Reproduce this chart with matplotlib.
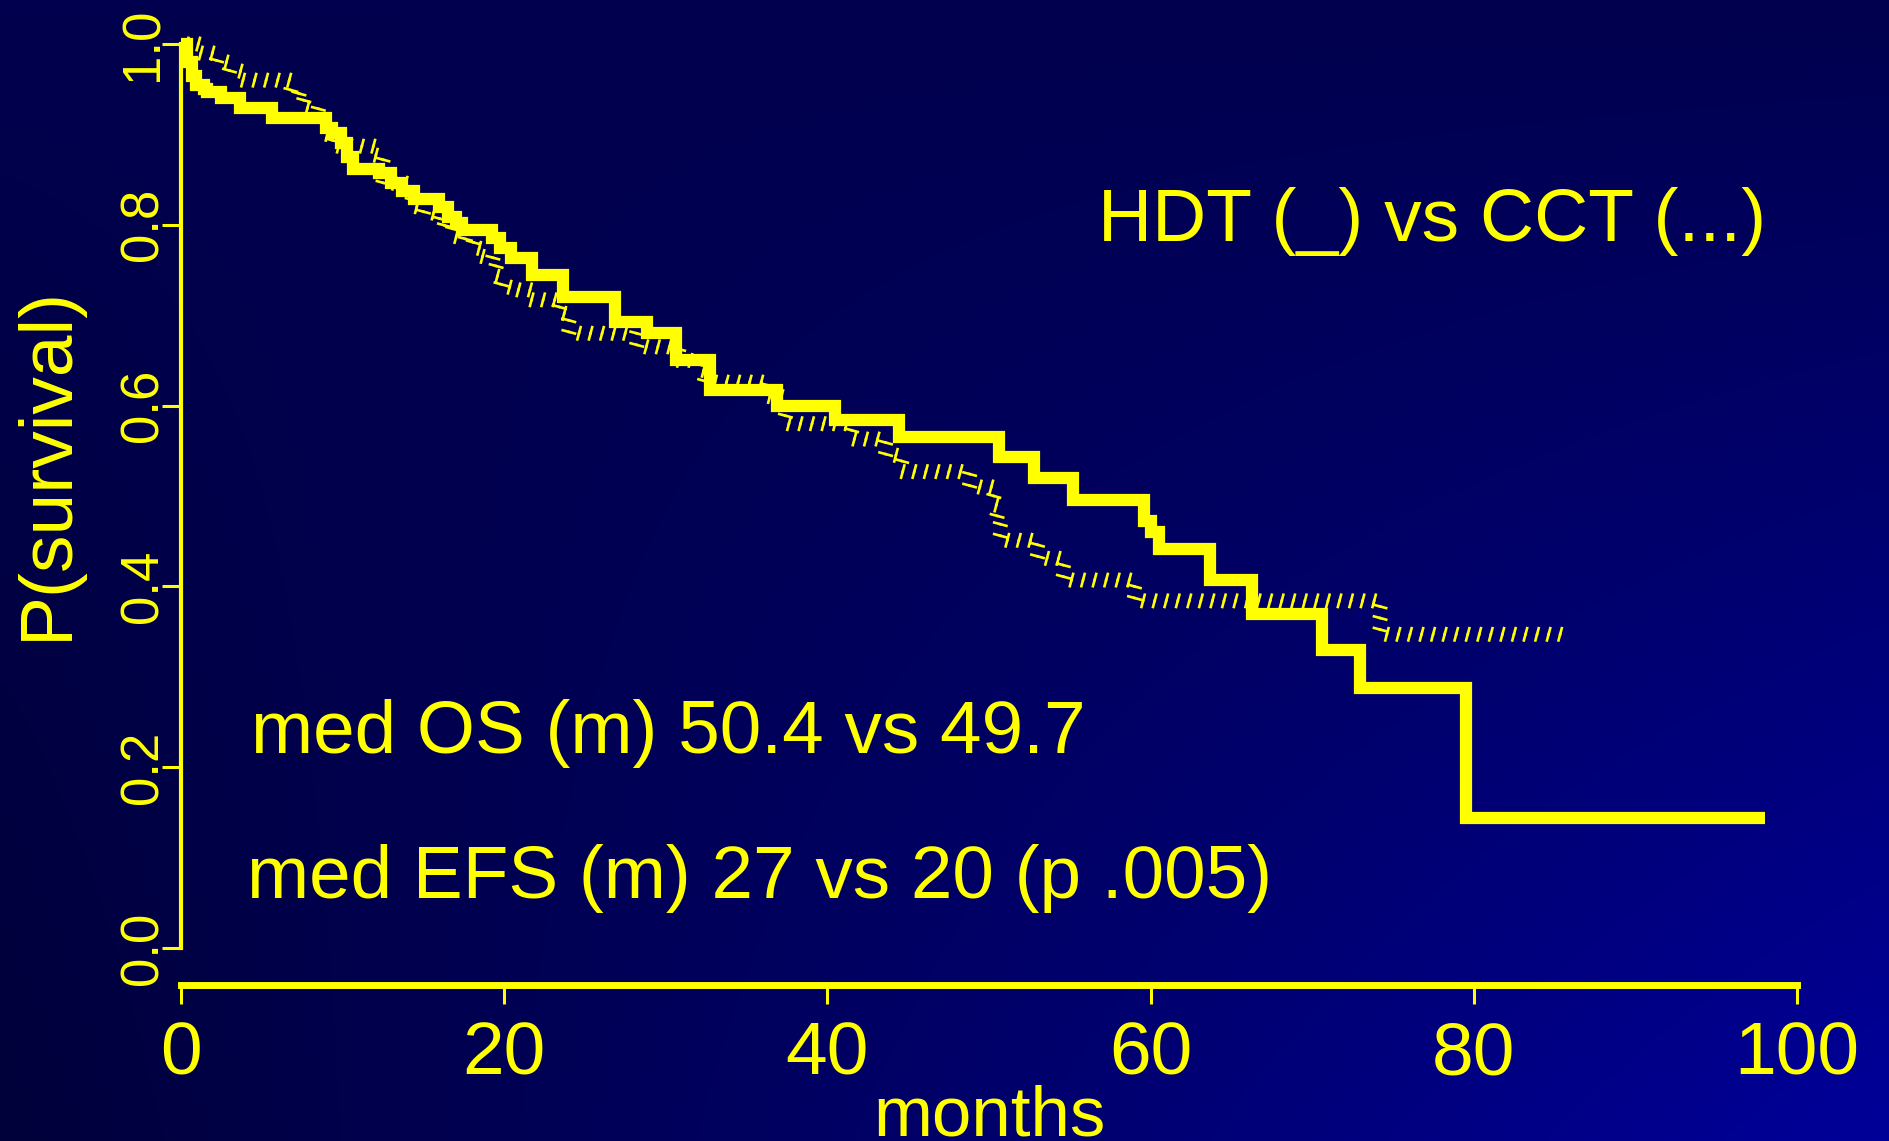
import numpy as np
import matplotlib.pyplot as plt
import matplotlib.patheffects as pe

plt.rcParams['font.family'] = ['Liberation Sans', 'DejaVu Sans']

# curva HDT (linea gruesa): tiempo de cada escalon, supervivencia
hdt_t = [0, 0.4, 0.7, 0.92, 1.4, 1.63, 2.46, 3.64, 5.66, 8.97, 9.33, 9.92, 10.27,
         10.63, 12.28, 12.99, 13.70, 14.42, 15.95, 16.54, 17.02, 17.37, 19.26, 19.74,
         20.45, 21.75, 23.64, 26.84, 28.85, 30.62, 32.76, 36.9, 40.5, 44.4, 50.6, 52.8,
         55.2, 59.6, 60.0, 60.5, 63.7, 66.3, 70.6, 72.96, 79.5, 98.0]
hdt_s = [1.0, 0.98, 0.965, 0.955, 0.950, 0.947, 0.940, 0.929, 0.918, 0.907, 0.901,
         0.890, 0.875, 0.862, 0.857, 0.846, 0.837, 0.829, 0.820, 0.809, 0.802, 0.794,
         0.785, 0.774, 0.763, 0.744, 0.720, 0.693, 0.680, 0.650, 0.617, 0.600, 0.584,
         0.565, 0.543, 0.520, 0.496, 0.472, 0.460, 0.441, 0.407, 0.370, 0.330, 0.288,
         0.144, 0.144]

# curva CCT (punteada)
cct_t = [0, 1.2, 2.2, 3.0, 3.8, 6.8, 7.3, 7.6, 8.5, 9.0, 9.4, 12.0, 12.5, 14.3, 15.0,
         16.0, 16.3, 16.8, 17.6, 18.1, 18.6, 19.3, 19.5, 19.8, 20.4, 21.6, 23.4, 24.0,
         28.2, 30.8, 32.0, 32.4, 36.4, 37.4, 41.5, 43.6, 44.6, 48.8, 50.3, 50.5, 50.7,
         53.0, 54.6, 59.0, 74.2, 85.7]
cct_s = [1.0, 0.99, 0.98, 0.97, 0.96, 0.949, 0.94, 0.929, 0.909, 0.90, 0.887, 0.877,
         0.846, 0.82, 0.813, 0.805, 0.798, 0.787, 0.783, 0.774, 0.765, 0.757, 0.743,
         0.731, 0.728, 0.717, 0.702, 0.680, 0.665, 0.65, 0.639, 0.626, 0.61, 0.580,
         0.563, 0.545, 0.527, 0.510, 0.490, 0.470, 0.451, 0.431, 0.407, 0.384, 0.347,
         0.347]

x_ticks = [0, 20, 40, 60, 80, 100]
y_ticks = [0.0, 0.2, 0.4, 0.6, 0.8, 1.0]

amarillo = '#ffff00'
W, H = 1889, 1141

fig = plt.figure(figsize=(W / 100, H / 100), dpi=100)

# fondo degradado azul
bg = fig.add_axes([0, 0, 1, 1], zorder=-1)
xf = np.linspace(0, 1, 200)[None, :]
yf = np.linspace(0, 1, 120)[:, None]
azul = (78 + yf * (-20 + 95 * xf)) / 255
img = np.zeros((120, 200, 3))
img[..., 2] = azul
bg.imshow(img, aspect='auto', extent=[0, 1, 1, 0], interpolation='bilinear')
bg.axis('off')

# ejes
ax = fig.add_axes([181 / W, (H - 985) / H, 1616 / W, 985 / H])
ax.set_facecolor('none')
ax.set_xlim(0, 100)
ax.set_ylim(-37 / 904, 948 / 904)

ax.plot(hdt_t, hdt_s, drawstyle='steps-post', color=amarillo, lw=8.8,
        solid_joinstyle='miter', solid_capstyle='butt', clip_on=False, zorder=3)

ticks_fx = [pe.TickedStroke(spacing=8.3, angle=75, length=0.55, linewidth=1.9),
            pe.TickedStroke(spacing=8.3, angle=-105, length=0.55, linewidth=1.9)]
ax.plot(cct_t, cct_s, drawstyle='steps-post', color=amarillo, lw=1.9,
        path_effects=ticks_fx, clip_on=False, zorder=2)

for s in ['top', 'right']:
    ax.spines[s].set_visible(False)
ax.spines['left'].set_bounds(0, 1)
ax.spines['left'].set_linewidth(3)
ax.spines['left'].set_color(amarillo)
ax.spines['bottom'].set_bounds(0, 100)
ax.spines['bottom'].set_linewidth(5)
ax.spines['bottom'].set_color(amarillo)

ax.set_xticks(x_ticks)
ax.set_xticklabels([str(v) for v in x_ticks], fontsize=54)
ax.set_yticks(y_ticks)
ax.set_yticklabels([f'{v:.1f}' for v in y_ticks], fontsize=38, rotation=90, va='center')
ax.tick_params(axis='both', colors=amarillo, direction='out', length=13.7, width=2.2)
ax.tick_params(axis='x', pad=12)
ax.tick_params(axis='y', pad=-4.5)

# textos
fig.text(47 / W, 1 - 463 / H, 'P(survival)', rotation=90, ha='center', va='center',
         fontsize=54, color=amarillo)
fig.text(989 / W, 1 - 1136 / H, 'months', ha='center', va='baseline',
         fontsize=51, color=amarillo)
fig.text(1098 / W, 1 - 241 / H, 'HDT (_) vs CCT (...)', ha='left', va='baseline',
         fontsize=54, color=amarillo)
fig.text(251 / W, 1 - 753 / H, 'med OS (m) 50.4 vs 49.7', ha='left', va='baseline',
         fontsize=53.8, color=amarillo)
fig.text(247 / W, 1 - 898 / H, 'med EFS (m) 27 vs 20 (p .005)', ha='left', va='baseline',
         fontsize=53.8, color=amarillo)

fig.savefig('out.png', dpi=100)
